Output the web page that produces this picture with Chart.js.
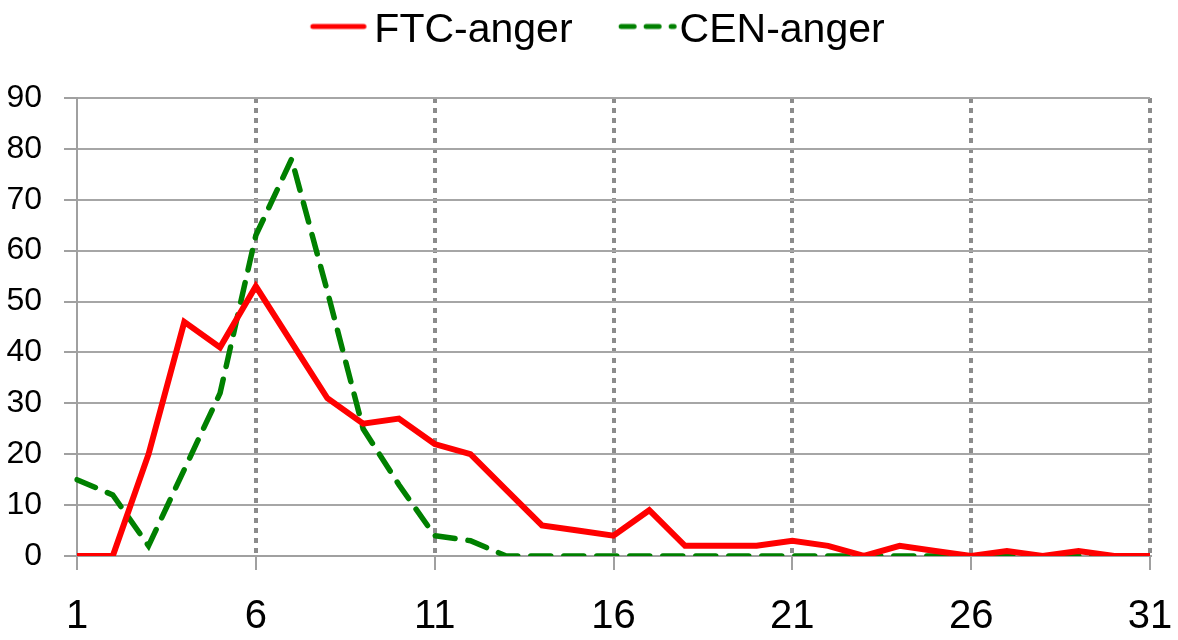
<!DOCTYPE html>
<html>
<head>
<meta charset="utf-8">
<script src="https://cdn.jsdelivr.net/npm/chart.js@4.4.0/dist/chart.umd.min.js"></script>
<style>
  html, body { margin: 0; padding: 0; background: #fff; }
  #wrap { width: 1178px; height: 640px; }
</style>
</head>
<body>
<div id="wrap"><canvas id="chart" width="1178" height="640"></canvas></div>
<script>
// x categories (days 1..31)
const days = Array.from({length: 31}, (_, i) => String(i + 1));

// series
const ftcAnger = [0, 0, 20, 46, 41, 53, 42, 31, 26, 27, 22, 20, 13, 6, 5, 4, 9, 2, 2, 2, 3, 2, 0, 2, 1, 0, 1, 0, 1, 0, 0];
const cenAnger = [15, 12, 2, 17, 32, 63, 78, 52, 25, 14, 4, 3, 0, 0, 0, 0, 0, 0, 0, 0, 0, 0, 0, 0, 0, 0, 0, 0, 0, 0, 0];

const FONT = "'Liberation Sans', Arial, sans-serif";
const GRID = '#8c8c8c';
const LEGEND_BOX = 76.5;

// every 5th day gets a label, tick and dotted line
const isMajor = i => i % 5 === 0;

// legend sample drawn into a small canvas so it sits close to the text
function legendSample(color, dash, start, end) {
    const c = document.createElement('canvas');
    c.width = 200;
    c.height = 20;
    const g = c.getContext('2d');
    g.strokeStyle = color;
    g.lineWidth = 5;
    g.lineCap = 'round';
    g.setLineDash(dash);
    g.beginPath();
    g.moveTo(100 + start + 2.5, 6);
    g.lineTo(100 + end - 2.5, 6);
    g.stroke();
    return c;
}

// add room under the legend before the plot starts
const legendGap = {
    id: 'legendGap',
    beforeUpdate(chart) {
        const lg = chart.legend;
        if (lg && !lg._gapDone) {
            const fit = lg.fit;
            lg.fit = function () {
                fit.call(this);
                this.height += 37;
            };
            lg._gapDone = true;
        }
    }
};

const ctx = document.getElementById('chart').getContext('2d');
const chart = new Chart(ctx, {
    type: 'line',
    data: {
        labels: days,
        datasets: [
            {
                label: 'FTC-anger',
                data: ftcAnger,
                borderColor: '#ff0000',
                backgroundColor: '#ff0000',
                borderWidth: 6,
                pointRadius: 0,
                pointStyle: legendSample('#ff0000', [], -5.25, 50.75),
                tension: 0,
                fill: false
            },
            {
                label: 'CEN-anger',
                data: cenAnger,
                borderColor: '#008000',
                backgroundColor: '#008000',
                borderWidth: 5.5,
                borderDash: [20, 13],
                borderCapStyle: 'round',
                pointRadius: 0,
                pointStyle: legendSample('#008000', [13, 12], -2.25, 55.75),
                tension: 0,
                fill: false
            }
        ]
    },
    plugins: [legendGap],
    options: {
        responsive: false,
        animation: false,
        layout: { padding: { left: 0, right: 16, top: 0, bottom: 0 } },
        plugins: {
            tooltip: { enabled: false },
            legend: {
                position: 'top',
                labels: {
                    font: { family: FONT, size: 41 },
                    color: '#000',
                    usePointStyle: true,
                    boxWidth: LEGEND_BOX,
                    pointStyleWidth: LEGEND_BOX,
                    padding: 10
                }
            }
        },
        scales: {
            x: {
                offset: false,
                grid: {
                    color: c => (c.index > 0 && isMajor(c.index)) ? GRID : 'transparent',
                    tickColor: c => isMajor(c.index) ? '#a0a0a0' : 'transparent',
                    lineWidth: 4,
                    tickWidth: 2,
                    tickLength: 14
                },
                border: { color: '#a0a0a0', width: 2, dash: [5, 5] },
                ticks: {
                    autoSkip: false,
                    maxRotation: 0,
                    padding: 23,
                    color: '#000',
                    font: { family: FONT, size: 40 },
                    callback: (v, i) => isMajor(i) ? days[i] : ''
                },
                afterFit: s => {
                    s.height = 84;
                    s.paddingRight = 28;
                }
            },
            y: {
                min: 0,
                max: 90,
                grid: {
                    color: '#a6a6a6',
                    tickColor: '#a0a0a0',
                    lineWidth: 2,
                    tickLength: 13
                },
                border: { color: '#a0a0a0', width: 2 },
                ticks: {
                    stepSize: 10,
                    padding: 22,
                    color: '#000',
                    font: { family: FONT, size: 32 }
                },
                afterFit: s => { s.width = 77; }
            }
        }
    }
});
</script>
</body>
</html>
